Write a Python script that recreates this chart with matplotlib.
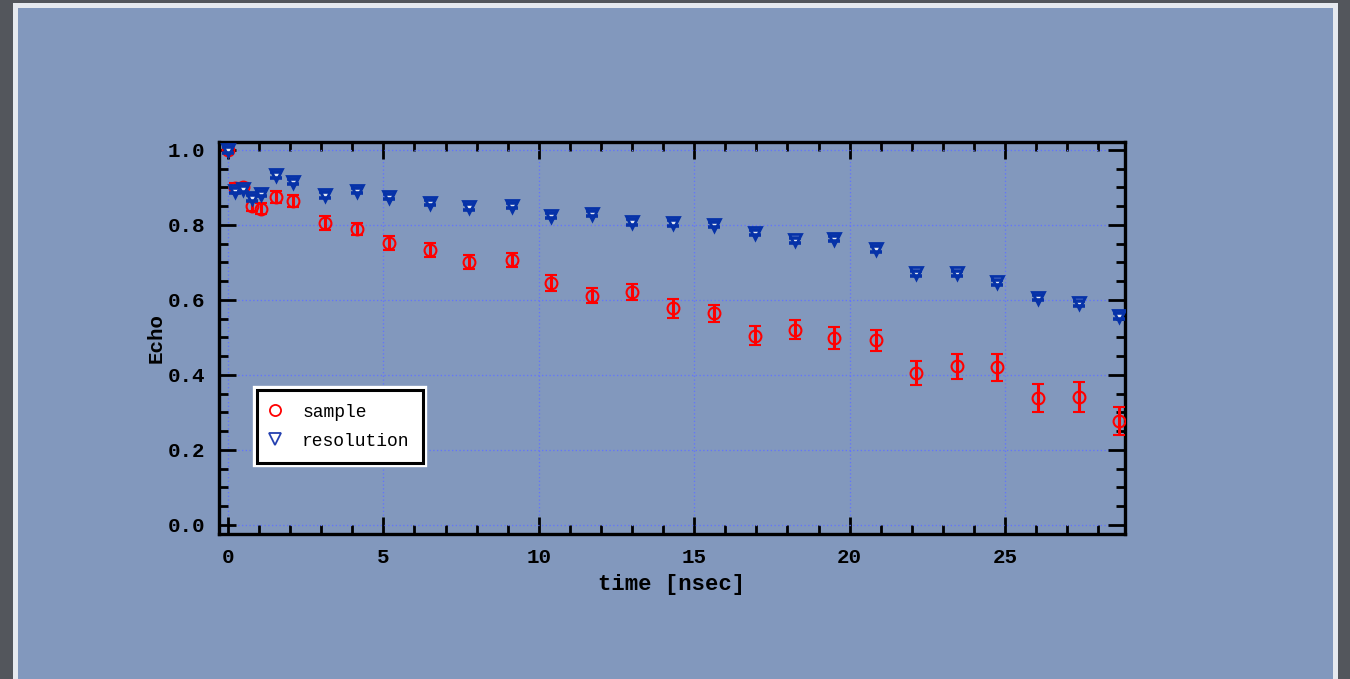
import matplotlib
matplotlib.use("Agg")
import matplotlib.pyplot as plt
import matplotlib.patheffects as pe
from matplotlib.patches import Rectangle
from matplotlib.lines import Line2D
from matplotlib.ticker import MultipleLocator, FormatStrFormatter

# ---- data ----
time_ns = [0.0, 0.23, 0.48, 0.77, 1.06, 1.55, 2.1, 3.13, 4.16, 5.19, 6.5, 7.74,
           9.13, 10.39, 11.71, 13.0, 14.32, 15.65, 16.94, 18.23, 19.5, 20.84,
           22.13, 23.45, 24.74, 26.06, 27.39, 28.68]

sample = [1.0, 0.899, 0.901, 0.851, 0.843, 0.875, 0.864, 0.805, 0.789, 0.752,
          0.733, 0.701, 0.707, 0.645, 0.611, 0.621, 0.578, 0.564, 0.505, 0.521,
          0.499, 0.492, 0.405, 0.423, 0.420, 0.339, 0.341, 0.277]
sample_err = [0.005, 0.012, 0.012, 0.014, 0.015, 0.016, 0.015, 0.018, 0.017,
              0.018, 0.019, 0.019, 0.019, 0.021, 0.020, 0.021, 0.025, 0.023,
              0.025, 0.026, 0.029, 0.027, 0.032, 0.033, 0.036, 0.038, 0.041,
              0.037]

resolution = [1.0, 0.891, 0.896, 0.872, 0.883, 0.933, 0.915, 0.880, 0.891,
              0.875, 0.859, 0.848, 0.851, 0.825, 0.830, 0.808, 0.805, 0.801,
              0.779, 0.759, 0.763, 0.736, 0.671, 0.671, 0.647, 0.606, 0.591,
              0.557]
resolution_err = [0.007] * len(time_ns)

xticks = [0, 5, 10, 15, 20, 25]
yticks = [0.0, 0.2, 0.4, 0.6, 0.8, 1.0]

# ---- figure / backdrop ----
plt.rcParams['font.family'] = ['Liberation Mono', 'DejaVu Sans Mono']

fig = plt.figure(figsize=(13.5, 6.79), dpi=100, facecolor='#53565c')
W, H = 1350, 679
# white frame and blue panel (behind the axes)
fig.patches.append(Rectangle((13 / W, 0), (1338 - 13) / W, 1 - 3 / H,
                             transform=fig.transFigure, facecolor='#e6e9ef',
                             edgecolor='none', zorder=-20))
fig.patches.append(Rectangle((18 / W, 0), (1333 - 18) / W, 1 - 8 / H,
                             transform=fig.transFigure, facecolor='#8298bd',
                             edgecolor='none', zorder=-10))

ax = fig.add_axes([219 / W, 1 - 534 / H, (1125 - 219) / W, (534 - 142) / H])
ax.set_facecolor('none')

red = '#ff0000'
blue = '#0632a8'

# sample: open circles with error bars
ax.errorbar(time_ns, sample, yerr=sample_err, fmt='o', ms=8.5, mfc='none',
            mec=red, mew=1.5, ecolor=red, elinewidth=2.2, capsize=4.5,
            capthick=2.5, zorder=3)

# resolution: triangles, caps drawn on top of the marker
ax.plot(time_ns, resolution, 'v', ms=8, mfc='#e4e9f3', mec=blue, mew=2,
        zorder=4)
ax.errorbar(time_ns, resolution, yerr=resolution_err, fmt='none', ecolor=blue,
            elinewidth=0, capsize=4, capthick=2.6, zorder=5)

ax.set_xlim(-0.29, 28.86)
ax.set_ylim(-0.024, 1.021)

ax.set_xticks(xticks)
ax.set_yticks(yticks)
ax.xaxis.set_minor_locator(MultipleLocator(1))
ax.yaxis.set_minor_locator(MultipleLocator(0.05))
ax.yaxis.set_major_formatter(FormatStrFormatter('%.1f'))

ax.tick_params(which='both', direction='in', top=True, right=True, width=2,
               color='black')
ax.tick_params(which='major', length=12, labelsize=15, pad=10)
ax.tick_params(which='minor', length=6.5)
for lab in ax.get_xticklabels() + ax.get_yticklabels():
    lab.set_fontweight('bold')

for s in ax.spines.values():
    s.set_linewidth(2.4)

ax.grid(True, which='major', color='#6272ff', linestyle=(0, (1, 2)),
        linewidth=0.9)
ax.set_axisbelow(True)

ax.set_xlabel('time [nsec]', fontsize=16, fontweight='bold', labelpad=5)
ax.set_ylabel('Echo', fontsize=15, fontweight='bold', labelpad=1.5)

# legend: markers only, black frame with white rim
handles = [Line2D([], [], ls='none', marker='o', ms=8, mfc='none', mec=red, mew=1.3),
           Line2D([], [], ls='none', marker='v', ms=8, mfc='none', mec='#2440b0', mew=1.3)]
labels = ['sample', 'resolution']
leg = ax.legend(handles, labels, loc='lower left', bbox_to_anchor=(0.042, 0.181),
                borderaxespad=0, fontsize=13, frameon=True, fancybox=False,
                framealpha=1, edgecolor='black', handlelength=0.5,
                handletextpad=1.25, borderpad=0.75, labelspacing=0.65)
frame = leg.get_frame()
frame.set_linewidth(2.2)
frame.set_path_effects([pe.Stroke(linewidth=6, foreground='white'), pe.Normal()])

fig.savefig('out.png', dpi=100, facecolor=fig.get_facecolor())
